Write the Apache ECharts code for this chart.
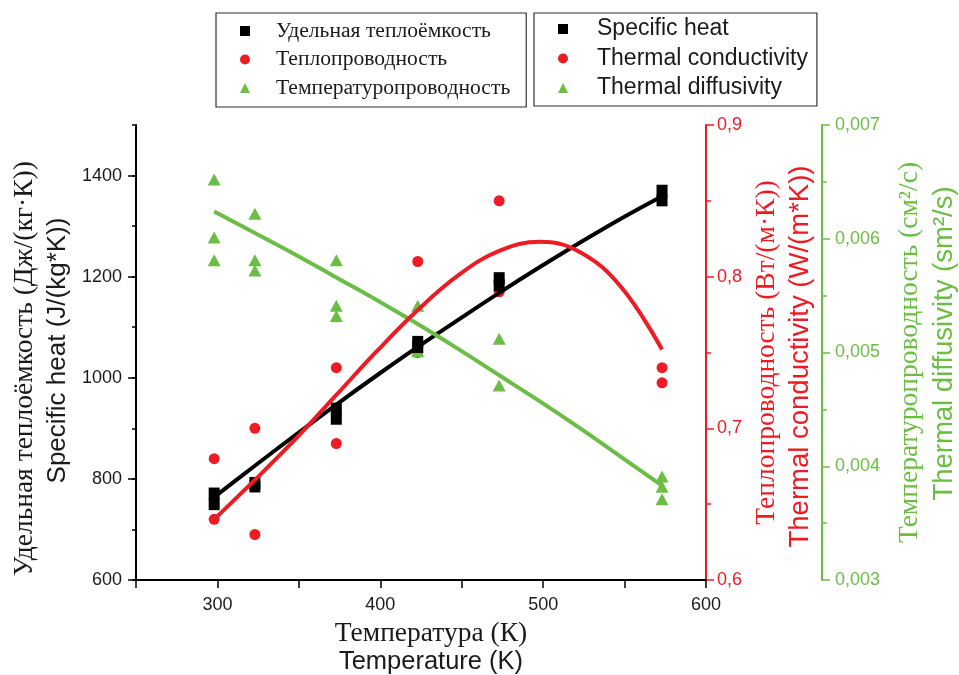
<!DOCTYPE html>
<html><head><meta charset="utf-8">
<script src="https://cdn.jsdelivr.net/npm/echarts@6/dist/echarts.min.js"></script>
<style>html,body{margin:0;padding:0;background:#fff}#c{width:959px;height:675px}</style>
</head><body><div id="c"></div>
<script>
// measured temperatures (K)
const temps = [298, 323, 373, 423, 473, 573];
// specific heat, J/(kg*K) – two replicates
const heatA = [771, 792, 939, 1071, 1197, 1370];
const heatB = [750, 785, 919, 1061, 1183, 1351];
// thermal conductivity, W/(m*K) – two replicates
const condA = [0.68, 0.70, 0.74, 0.81, 0.85, 0.74];
const condB = [0.64, 0.63, 0.69, 0.75, 0.79, 0.73];
// thermal diffusivity, cm2/s – up to three replicates
const diffA = [0.00652, 0.00622, 0.00581, 0.00541, 0.00512, 0.00391];
const diffB = [0.00601, 0.00581, 0.00541, 0.00501, 0.00471, 0.00382];
const diffC = [0.00581, 0.00572, 0.00532, null, null, 0.00371];
// fitted curves
const fitT    = [298, 323, 348, 373, 398, 423, 448, 473, 498, 523, 548, 573];
const heatFit = [764, 826, 887, 947, 1005, 1061, 1115, 1168, 1219, 1268, 1315, 1359];
const condFit = [0.640, 0.666, 0.693, 0.722, 0.751, 0.778, 0.801, 0.817, 0.823, 0.816, 0.793, 0.752];
const diffFit = [0.00624, 0.00605, 0.00586, 0.00566, 0.00546, 0.00525, 0.00503, 0.00480, 0.00457, 0.00433, 0.00408, 0.00383];
// tick positions / labels
const heatMajorTicks = [600, 800, 1000, 1200, 1400];
const namesRu = ['Удельная теплоёмкость', 'Теплопроводность', 'Температуропроводность'];
const namesEn = ['Specific heat', 'Thermal conductivity', 'Thermal diffusivity'];
const legendIcons = ['rect', 'circle', 'triangle'];
const xTitleRu = 'Температура (К)', xTitleEn = 'Temperature (K)';
const y1TitleRu = 'Удельная теплоёмкость (Дж/(кг·К))', y1TitleEn = 'Specific heat (J/(kg*K))';
const y2TitleRu = 'Теплопроводность (Вт/(м·К))', y2TitleEn = 'Thermal conductivity (W/(m*K))';
const y3TitleRu = 'Температуропроводность (см²/с)', y3TitleEn = 'Thermal diffusivity (sm²/s)';

const BLACK = '#000000', RED = '#ED1C24', GREEN = '#6CBD45', TXT = '#1a1a1a';
const SERIF = '"Liberation Serif", "DejaVu Serif", serif';
const SANS = '"Liberation Sans", Arial, sans-serif';

function pairs(xs, ...cols) {
  const out = [];
  cols.forEach(c => c.forEach((v, i) => { if (v != null) out.push([xs[i], v]); }));
  return out;
}
function titleRich(color, ruSize, enSize, lh, ruPad, enPad) {
  return {
    color: color,
    rich: {
      ru: { fontFamily: SERIF, fontSize: ruSize, lineHeight: lh, color: color, padding: ruPad || [0, 0, 0, 0] },
      en: { fontFamily: SANS, fontSize: enSize, lineHeight: lh, color: color, padding: enPad || [0, 0, 0, 0] }
    }
  };
}
const comma = d => v => v.toFixed(d).replace('.', ',');

const chart = echarts.init(document.getElementById('c'), null, { renderer: 'canvas' });
chart.setOption({
  animation: false,
  backgroundColor: '#fff',
  grid: { left: 136, right: 253, top: 125, bottom: 95, containLabel: false, outerBoundsMode: 'none' },
  legend: [
    {
      data: namesRu.map((n, i) => ({ name: n, icon: legendIcons[i] })),
      orient: 'vertical', left: 216, top: 13,
      padding: [7, 16, 8, 24], itemWidth: 10, itemHeight: 10, itemGap: 6.5,
      borderColor: '#333', borderWidth: 1.2, selectedMode: false,
      itemStyle: { borderWidth: 0, opacity: 1 },
      textStyle: { fontFamily: SERIF, fontSize: 21.6, lineHeight: 22, color: TXT, padding: [0, 0, 0, 21] }
    },
    {
      data: namesEn.map((n, i) => ({ name: n, icon: legendIcons[i] })),
      orient: 'vertical', left: 534, top: 13,
      padding: [3.5, 9, 5.5, 24], itemWidth: 10, itemHeight: 10, itemGap: 4.5,
      borderColor: '#333', borderWidth: 1.2, selectedMode: false,
      itemStyle: { borderWidth: 0, opacity: 1 },
      textStyle: { fontFamily: SANS, fontSize: 23, lineHeight: 25, color: TXT, padding: [0, 0, 0, 24] }
    }
  ],
  xAxis: {
    type: 'value', min: 250, max: 600, interval: 50,
    axisLine: { lineStyle: { color: BLACK, width: 2 } },
    axisTick: { length: 8, lineStyle: { color: BLACK, width: 1.5 } },
    axisLabel: { fontFamily: SANS, fontSize: 18, color: TXT, margin: 16,
      formatter: v => (v % 100 === 0 ? String(v) : '') },
    splitLine: { show: false },
    name: '{ru|' + xTitleRu + '}\n{en|' + xTitleEn + '}',
    nameLocation: 'middle', nameGap: 40,
    nameTextStyle: Object.assign(titleRich(TXT, 27.5, 25.5, 28), { padding: [0, 0, 0, 20] })
  },
  yAxis: [
    {
      type: 'value', position: 'left', min: 600, max: 1500, interval: 200,
      axisLine: { show: true, lineStyle: { color: BLACK, width: 2 } },
      axisTick: { length: 8, customValues: heatMajorTicks, lineStyle: { color: BLACK, width: 1.5 } },
      axisLabel: { fontFamily: SANS, fontSize: 18, color: TXT, margin: 14,
        formatter: v => (v <= 1400 ? String(v) : '') },
      splitLine: { show: false },
      name: '{ru|' + y1TitleRu + '}\n{en|' + y1TitleEn + '}',
      nameLocation: 'middle', nameGap: 61.5, nameRotate: 90,
      nameTextStyle: titleRich(TXT, 27.5, 26, 33, [0, 32, 0, 0], [0, 0, 0, 4])
    },
    {
      type: 'value', position: 'right', min: 0.6, max: 0.9, interval: 0.1,
      axisLine: { show: true, lineStyle: { color: RED, width: 2 } },
      axisTick: { length: 8, lineStyle: { color: RED, width: 1.5 } },
      minorTick: { show: true, splitNumber: 2, length: 5, lineStyle: { color: RED, width: 1.5 } },
      axisLabel: { fontFamily: SANS, fontSize: 18, color: RED, margin: 11, formatter: comma(1) },
      splitLine: { show: false },
      name: '{ru|' + y2TitleRu + '}\n{en|' + y2TitleEn + '}',
      nameLocation: 'middle', nameGap: 44.5, nameRotate: 90,
      nameTextStyle: titleRich(RED, 27.5, 27.5, 33, [0, 0, 0, 0], [0, 8, 0, 0])
    },
    {
      type: 'value', position: 'right', offset: 116, min: 0.003, max: 0.007, interval: 0.001,
      axisLine: { show: true, lineStyle: { color: GREEN, width: 2 } },
      axisTick: { length: 8, lineStyle: { color: GREEN, width: 1.5 } },
      minorTick: { show: true, splitNumber: 2, length: 5, lineStyle: { color: GREEN, width: 1.5 } },
      axisLabel: { fontFamily: SANS, fontSize: 18, color: GREEN, margin: 13, formatter: comma(3) },
      splitLine: { show: false },
      name: '{ru|' + y3TitleRu + '}\n{en|' + y3TitleEn + '}',
      nameLocation: 'middle', nameGap: 71, nameRotate: 90,
      nameTextStyle: titleRich(GREEN, 27.5, 27.5, 34, [0, 0, 0, 0], [0, 0, 0, 18])
    },
    {
      // minor ticks (every 100) of the specific-heat axis
      type: 'value', position: 'left', min: 600, max: 1500, interval: 100,
      axisLine: { show: false },
      axisTick: { show: true, length: 4, lineStyle: { color: BLACK, width: 1.5 } },
      axisLabel: { show: false },
      splitLine: { show: false }
    }
  ],
  series: [
    { name: namesRu[0], type: 'scatter', yAxisIndex: 0, symbol: 'rect', symbolSize: [11, 12],
      itemStyle: { color: BLACK, opacity: 1 }, data: pairs(temps, heatA, heatB), z: 3 },
    { name: namesRu[1], type: 'scatter', yAxisIndex: 1, symbol: 'circle', symbolSize: 11,
      itemStyle: { color: RED, opacity: 1 }, data: pairs(temps, condA, condB), z: 2 },
    { name: namesRu[2], type: 'scatter', yAxisIndex: 2, symbol: 'triangle', symbolSize: [13, 12],
      itemStyle: { color: GREEN, opacity: 1 }, data: pairs(temps, diffA, diffB, diffC), z: 2 },
    { name: namesEn[0], type: 'line', yAxisIndex: 0, smooth: 0.4, showSymbol: false, symbol: 'none',
      itemStyle: { color: BLACK }, lineStyle: { color: BLACK, width: 4 },
      data: pairs(fitT, heatFit), z: 4 },
    { name: namesEn[2], type: 'line', yAxisIndex: 2, smooth: 0.4, showSymbol: false, symbol: 'none',
      itemStyle: { color: GREEN }, lineStyle: { color: GREEN, width: 4 },
      data: pairs(fitT, diffFit), z: 4 },
    { name: namesEn[1], type: 'line', yAxisIndex: 1, smooth: 0.4, showSymbol: false, symbol: 'none',
      itemStyle: { color: RED }, lineStyle: { color: RED, width: 4 },
      data: pairs(fitT, condFit), z: 4 }
  ]
});
</script>
</body></html>
